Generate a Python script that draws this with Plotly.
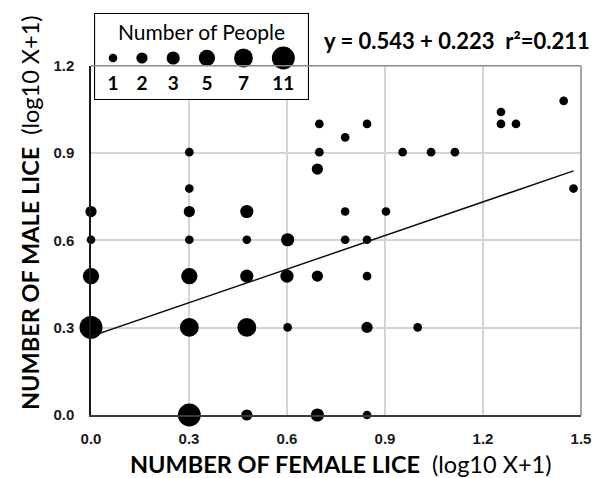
import numpy as np
import plotly.graph_objects as go

# ---------------- data (log10(X+1) values) ----------------
female_lice = [0.0, 0.0, 0.0, 0.0,
               0.301, 0.301, 0.301, 0.301, 0.301, 0.301, 0.301,
               0.477, 0.477, 0.477, 0.477, 0.477,
               0.602, 0.600, 0.602,
               0.693, 0.693, 0.693, 0.699, 0.699,
               0.778, 0.778, 0.778,
               0.845, 0.845, 0.845, 0.845, 0.845,
               0.903, 0.954, 1.0, 1.041, 1.114,
               1.255, 1.255, 1.301, 1.447, 1.477]
male_lice = [0.301, 0.477, 0.602, 0.699,
             0.0, 0.301, 0.477, 0.602, 0.699, 0.778, 0.903,
             0.0, 0.301, 0.477, 0.602, 0.699,
             0.301, 0.477, 0.602,
             0.0, 0.477, 0.845, 0.903, 1.0,
             0.602, 0.699, 0.954,
             0.0, 0.301, 0.477, 0.602, 1.0,
             0.699, 0.903, 0.301, 0.903, 0.903,
             1.0, 1.041, 1.0, 1.079, 0.778]
num_people = [11, 5, 1, 2,
              11, 7, 5, 1, 2, 1, 1,
              2, 7, 3, 1, 3,
              1, 3, 3,
              3, 2, 2, 1, 1,
              1, 1, 1,
              1, 2, 1, 1, 1,
              1, 1, 1, 1, 1,
              1, 1, 1, 1, 1]

fit_x = [0.0, 1.477]
fit_intercept = 0.27
fit_slope = 0.385

legend_counts = [1, 2, 3, 5, 7, 11]
x_ticks = [0.0, 0.3, 0.6, 0.9, 1.2, 1.5]
y_ticks = [0.0, 0.3, 0.6, 0.9, 1.2]

equation_text = "y = 0.543 + 0.223  r²=0.211"
legend_title = "Number of People"
x_title_bold = "NUMBER OF FEMALE LICE"
y_title_bold = "NUMBER OF MALE LICE"
title_suffix = "(log10 X+1)"

# ---------------- styling helpers ----------------
W, H = 602, 478
def size_of(n):
    return 2.5 + 6.17 * np.sqrt(np.asarray(n, dtype=float))

TITLE_FONT = "Lato"
TICK_FONT = "Liberation Sans"

fig = go.Figure()

# main scatter
fig.add_trace(go.Scatter(
    x=female_lice, y=male_lice, mode="markers",
    marker=dict(color="black", size=size_of(num_people), sizemode="diameter",
                line=dict(width=0), opacity=1),
    cliponaxis=False, showlegend=False, xaxis="x", yaxis="y"))

# regression line
fit_y = [fit_intercept + fit_slope * v for v in fit_x]
fig.add_trace(go.Scatter(
    x=fit_x, y=fit_y, mode="lines",
    line=dict(color="#111111", width=1.5),
    showlegend=False, xaxis="x", yaxis="y"))

# legend bubbles in an overlay subplot (units = pixels of the legend box)
leg_w, leg_h = 215, 87
d = size_of(legend_counts)
gap = 19.0
centers = []
for i, di in enumerate(d):
    if i == 0:
        pos = 19.0
    else:
        pos = centers[-1] + d[i - 1] / 2 + gap + di / 2
    centers.append(pos)
fig.add_trace(go.Scatter(
    x=centers, y=[42] * len(centers), mode="markers",
    marker=dict(color="black", size=d, sizemode="diameter", line=dict(width=0), opacity=1),
    showlegend=False, xaxis="x2", yaxis="y2", cliponaxis=False))
fig.add_trace(go.Scatter(
    x=centers, y=[15] * len(centers), mode="text",
    text=[str(c) for c in legend_counts],
    textfont=dict(family=TITLE_FONT, size=19, color="black", weight="bold"),
    showlegend=False, xaxis="x2", yaxis="y2", cliponaxis=False))

# ---------------- layout ----------------
px_l, px_r, px_b, px_t = 91, 581, 415, 65.7
box_l, box_r, box_t, box_b = 94, 309, 13, 100

fig.update_layout(
    width=W, height=H,
    margin=dict(l=0, r=0, t=0, b=0, autoexpand=False),
    paper_bgcolor="white", plot_bgcolor="white",
    xaxis=dict(domain=[px_l / W, px_r / W], range=[0, 1.5],
               tickvals=x_ticks, ticktext=[f"{v:.1f}" for v in x_ticks],
               showgrid=True, gridcolor="#d4d4d4", gridwidth=1.5,
               zeroline=False, showline=True, linecolor="#3a3a3a", linewidth=1.5,
               ticks="", ticklabelstandoff=9, automargin=False,
               tickfont=dict(family=TICK_FONT, size=15, color="#1a1a1a", weight="bold")),
    yaxis=dict(domain=[(H - px_b) / H, (H - px_t) / H], range=[0, 1.2],
               tickvals=y_ticks, ticktext=[f"{v:.1f}" for v in y_ticks],
               showgrid=True, gridcolor="#d4d4d4", gridwidth=1.5,
               zeroline=False, showline=True, linecolor="#1a1a1a", linewidth=1.5,
               ticks="", ticklabelstandoff=12, automargin=False,
               tickfont=dict(family=TICK_FONT, size=15, color="#1a1a1a", weight="bold")),
    xaxis2=dict(domain=[box_l / W, box_r / W], range=[0, leg_w], visible=False,
                fixedrange=True),
    yaxis2=dict(domain=[(H - box_b) / H, (H - box_t) / H], range=[0, leg_h], visible=False,
                fixedrange=True),
    shapes=[
        dict(type="line", xref="x domain", yref="y domain", x0=0, x1=1, y0=1, y1=1,
             line=dict(color="#8a8a8a", width=1.5), layer="above"),
        dict(type="line", xref="x domain", yref="y domain", x0=1, x1=1, y0=0, y1=1,
             line=dict(color="#8a8a8a", width=1.5), layer="above"),
        dict(type="rect", xref="x2", yref="y2", x0=0, x1=leg_w, y0=0, y1=leg_h,
             fillcolor="white", line=dict(color="black", width=2.2), layer="below"),
    ],
    annotations=[
        dict(text=legend_title, xref="x2", yref="y2", x=leg_w / 2, y=69,
             showarrow=False, xanchor="center", yanchor="middle",
             font=dict(family=TITLE_FONT, size=21, color="black")),
        dict(text=f"<b>{equation_text}</b>", xref="paper", yref="paper",
             x=322 / W, y=(H - 40) / H, showarrow=False, xanchor="left", yanchor="middle",
             font=dict(family=TITLE_FONT, size=22, color="black")),
        dict(text=f"<b>{x_title_bold}</b>\u00a0\u00a0{title_suffix}", xref="paper", yref="paper",
             x=340 / W, y=(H - 464) / H, showarrow=False, xanchor="center", yanchor="middle",
             font=dict(family=TITLE_FONT, size=23.5, color="black")),
        dict(text=f"<b>{y_title_bold}</b>\u00a0\u00a0{title_suffix}", xref="paper", yref="paper",
             x=30 / W, y=(H - 213) / H, showarrow=False, xanchor="center", yanchor="middle",
             textangle=-90,
             font=dict(family=TITLE_FONT, size=23.5, color="black")),
    ],
)

fig.write_html("out.html", config={"displayModeBar": False},
               post_script="document.body.style.margin='0px';")
